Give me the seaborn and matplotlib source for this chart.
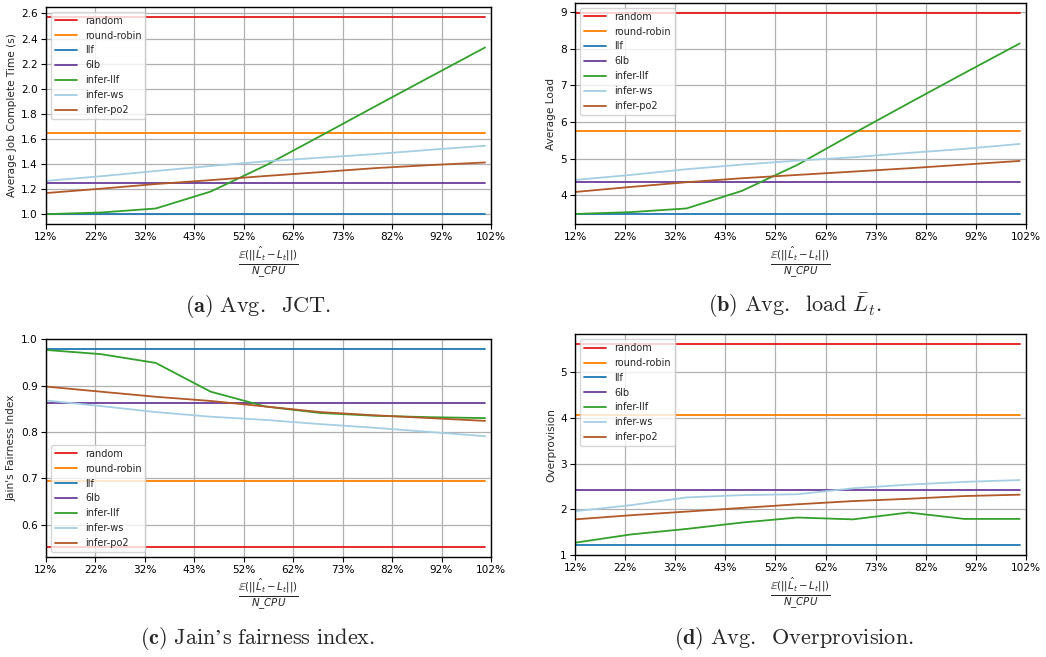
import matplotlib
matplotlib.use("Agg")
import matplotlib.pyplot as plt
import seaborn as sns
import numpy as np

# ---------------- data ----------------
x_err = [12, 23.1, 34.2, 45.3, 56.4, 67.5, 78.6, 89.7, 100.8]
x_ticks = [12, 22, 32, 42, 52, 62, 72, 82, 92, 102]
x_ticklabels = ["12%", "22%", "32%", "43%", "52%", "62%", "73%", "82%", "92%", "102%"]

methods = ["random", "round-robin", "llf", "6lb", "infer-llf", "infer-ws", "infer-po2"]
colors = ["#e31a1c", "#ff7f00", "#1f78b4", "#6a3d9a", "#33a02c", "#a6cee3", "#b15928"]

# (a) average JCT
jct_random = 2.573
jct_rr = 1.644
jct_llf = 1.0
jct_6lb = 1.246
jct_infer_llf = [1.0, 1.013, 1.045, 1.180, 1.388, 1.623, 1.860, 2.095, 2.329]
jct_infer_ws = [1.265, 1.302, 1.344, 1.384, 1.421, 1.450, 1.479, 1.513, 1.545]
jct_infer_po2 = [1.168, 1.203, 1.240, 1.271, 1.304, 1.335, 1.367, 1.391, 1.412]

# (b) average load
load_random = 8.97
load_rr = 5.757
load_llf = 3.49
load_6lb = 4.355
load_infer_llf = [3.49, 3.54, 3.64, 4.12, 4.83, 5.68, 6.51, 7.33, 8.14]
load_infer_ws = [4.418, 4.555, 4.71, 4.836, 4.945, 5.036, 5.155, 5.264, 5.40]
load_infer_po2 = [4.09, 4.227, 4.355, 4.464, 4.555, 4.645, 4.736, 4.836, 4.936]

# (c) Jain's fairness index
jfi_random = 0.552
jfi_rr = 0.695
jfi_llf = 0.978
jfi_6lb = 0.863
jfi_infer_llf = [0.977, 0.968, 0.949, 0.887, 0.855, 0.841, 0.835, 0.832, 0.830]
jfi_infer_ws = [0.868, 0.856, 0.843, 0.833, 0.826, 0.817, 0.809, 0.800, 0.791]
jfi_infer_po2 = [0.898, 0.887, 0.876, 0.867, 0.855, 0.843, 0.836, 0.830, 0.824]

# (d) overprovision
ovp_random = 5.613
ovp_rr = 4.066
ovp_llf = 1.21
ovp_6lb = 2.43
ovp_infer_llf = [1.27, 1.45, 1.57, 1.71, 1.82, 1.78, 1.93, 1.79, 1.79]
ovp_infer_ws = [1.96, 2.09, 2.26, 2.31, 2.33, 2.46, 2.54, 2.60, 2.64]
ovp_infer_po2 = [1.78, 1.87, 1.95, 2.03, 2.11, 2.18, 2.23, 2.29, 2.32]

panels = [
    dict(series=[jct_random, jct_rr, jct_llf, jct_6lb, jct_infer_llf, jct_infer_ws, jct_infer_po2],
         ylabel="Average Job Complete Time (s)", loc="upper left", ylim=None,
         caption=r"$\mathbf{(a)}\ \mathrm{Avg.\ \;JCT.}$"),
    dict(series=[load_random, load_rr, load_llf, load_6lb, load_infer_llf, load_infer_ws, load_infer_po2],
         ylabel="Average Load", loc="upper left", ylim=None,
         caption=r"$\mathbf{(b)}\ \mathrm{Avg.\ \;load}\ \bar{L}_t.$"),
    dict(series=[jfi_random, jfi_rr, jfi_llf, jfi_6lb, jfi_infer_llf, jfi_infer_ws, jfi_infer_po2],
         ylabel="Jain's Fairness Index", loc="lower left", ylim=(0.531, 1.0),
         caption=r"$\mathbf{(c)}\ \mathrm{Jain’s\ fairness\ index.}$"),
    dict(series=[ovp_random, ovp_rr, ovp_llf, ovp_6lb, ovp_infer_llf, ovp_infer_ws, ovp_infer_po2],
         ylabel="Overprovision", loc="upper left", ylim=(1.0, 5.83),
         caption=r"$\mathbf{(d)}\ \mathrm{Avg.\ \;Overprovision.}$"),
]

# ---------------- style ----------------
FS = 7.6
sns.set_theme(style="ticks", rc={
    "axes.grid": True,
    "grid.color": "#b0b0b0",
    "grid.linewidth": 0.9,
    "axes.edgecolor": "black",
    "axes.linewidth": 1.0,
    "xtick.color": "black",
    "ytick.color": "black",
    "xtick.major.size": 3.5,
    "ytick.major.size": 3.5,
    "xtick.major.width": 0.8,
    "ytick.major.width": 0.8,
    "xtick.major.pad": 2.5,
    "ytick.major.pad": 2.5,
    "font.size": FS,
    "xtick.labelsize": FS,
    "ytick.labelsize": FS,
    "axes.labelsize": FS,
    "legend.fontsize": 7.0,
})
plt.rcParams["font.family"] = ["DejaVu Sans"]

W, H = 1046, 657
fig = plt.figure(figsize=(W / 100, H / 100), dpi=100)

boxes = [
    (46, 7, 491, 224),
    (575.3, 3, 1025.7, 224),
    (46, 339.3, 491, 556.7),
    (575.3, 334.3, 1025.7, 555),
]
cap_pos = [(258, 306), (795, 306), (258, 639), (794, 639)]

xlabel = r"$\frac{\mathbb{E}(||\hat{L}_t - L_t||)}{N\_CPU}$"

for p, (l, t, r, b), (cx, cy) in zip(panels, boxes, cap_pos):
    ax = fig.add_axes([l / W, 1 - b / H, (r - l) / W, (b - t) / H])
    for name, col, vals in zip(methods, colors, p["series"]):
        yv = vals if isinstance(vals, list) else [vals] * len(x_err)
        sns.lineplot(x=x_err, y=yv, ax=ax, color=col, linewidth=1.3, label=name)
    ax.set_xlim(12, 102)
    if p["ylim"] is not None:
        ax.set_ylim(*p["ylim"])
    ax.set_xticks(x_ticks)
    ax.set_xticklabels(x_ticklabels)
    ax.set_ylabel(p["ylabel"], labelpad=3)
    ax.set_xlabel(xlabel, fontsize=10.5, labelpad=1)
    ax.legend(loc=p["loc"], frameon=True, fancybox=True, framealpha=0.8,
              edgecolor="#cccccc", handlelength=2.3, borderpad=0.4,
              labelspacing=0.5)
    for s in ax.spines.values():
        s.set_visible(True)
        s.set_color("black")
    fig.text(cx / W, 1 - cy / H, p["caption"], ha="center", va="center",
             fontsize=16, math_fontfamily="cm")

fig.savefig("out.png", dpi=100)
